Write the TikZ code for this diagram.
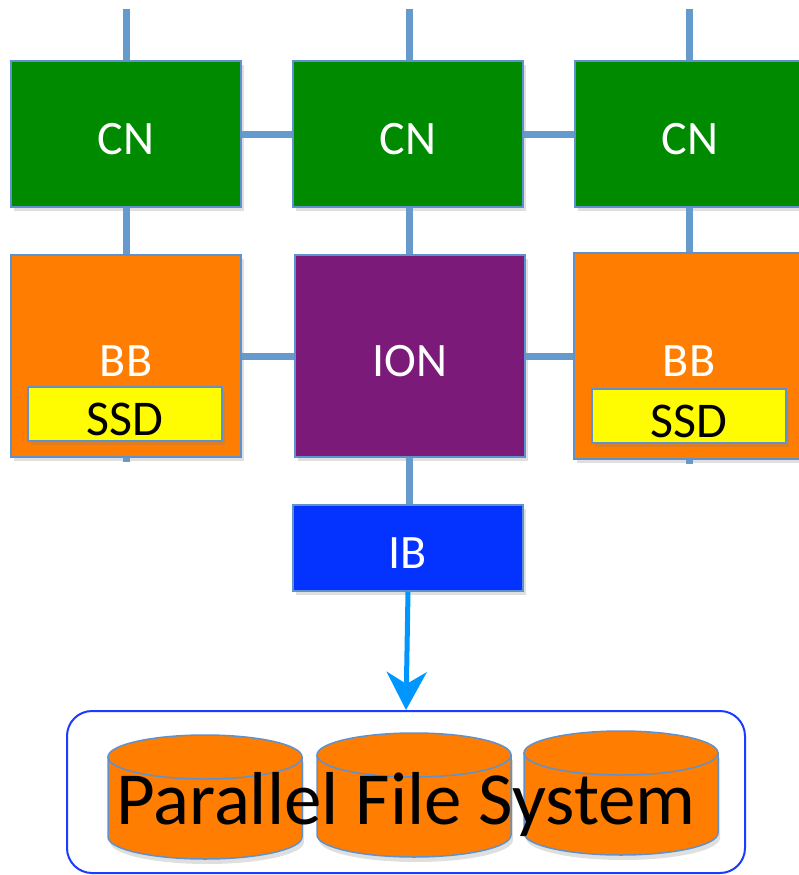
\documentclass[tikz,border=0pt]{standalone}
\usepackage{fontspec}
\setmainfont{Carlito}
\usetikzlibrary{arrows.meta,shadows}
\definecolor{cngreen}{RGB}{0,138,0}
\definecolor{bborange}{RGB}{255,125,0}
\definecolor{ionpurple}{RGB}{123,26,120}
\definecolor{ibblue}{RGB}{4,51,255}
\definecolor{ssdyellow}{RGB}{255,251,0}
\definecolor{linkblue}{RGB}{102,153,204}
\definecolor{boxline}{RGB}{95,145,205}
\definecolor{arrowblue}{RGB}{0,150,255}
\definecolor{pfsblue}{RGB}{25,60,255}
\begin{document}
\begin{tikzpicture}[x=1pt,y=-1pt,
  box/.style={draw=boxline,line width=1.5pt,minimum width=230pt,text=white,
    font=\fontsize{48}{52}\selectfont,text height=40pt,text depth=0pt,
    drop shadow={shadow xshift=3pt,shadow yshift=-4pt,opacity=.25}},
  ssd/.style={box,fill=ssdyellow,minimum width=194pt,minimum height=54pt,text=black,
    font=\fontsize{50}{54}\selectfont,text height=42pt,inner sep=2pt},
  link/.style={draw=linkblue,line width=7pt}]
\useasboundingbox (0,0) rectangle (798,875);
% compute nodes
\node[box,fill=cngreen,minimum height=146pt] (cnA) at (126,134) {CN};
\node[box,fill=cngreen,minimum height=146pt] (cnB) at (408,134) {CN};
\node[box,fill=cngreen,minimum height=146pt] (cnC) at (690,134) {CN};
% burst buffers and io node
\node[box,fill=bborange,minimum height=202pt] (bbA) at (126,356) {BB};
\node[box,fill=ionpurple,minimum height=202pt] (ion) at (410,356) {ION};
\node[box,fill=bborange,minimum height=206pt] (bbB) at (689,356) {BB};
\node[ssd] (ssdA) at (125,414) {SSD};
\node[ssd] (ssdB) at (689,416) {SSD};
\node[box,fill=ibblue,minimum height=86pt] (ib) at (408,548) {IB};
% links
\coordinate (topA) at (126,9);
\coordinate (topB) at (409,9);
\coordinate (topC) at (689,9);
\coordinate (stubA) at (126,462);
\coordinate (stubB) at (689,464);
\draw[link] (topA)--(cnA.north);
\draw[link] (topB)--(cnB.north -| topB);
\draw[link] (topC)--(cnC.north -| topC);
\draw[link] (cnA.east)--(cnB.west);
\draw[link] (cnB.east)--(cnC.west);
\draw[link] (cnA.south)--(bbA.north);
\draw[link] (cnB.south -| topB)--(ion.north -| topB);
\draw[link] (cnC.south -| topC)--(bbB.north -| topC);
\draw[link] (bbA.east)--(ion.west);
\draw[link] (ion.east)--(bbB.west);
\draw[link] (bbA.south)--(stubA);
\draw[link] (bbB.south -| stubB)--(stubB);
\draw[link] (ion.south -| topB)--(ib.north -| topB);
% parallel file system
\node[draw=pfsblue,line width=2pt,rounded corners=25pt,minimum width=678pt,minimum height=162pt] (pfs) at (406,792) {};
\foreach \cx/\yt in {205/757,414/755,621/753}{
  \filldraw[fill=bborange,draw=boxline,line width=1.5pt,drop shadow={shadow xshift=2pt,shadow yshift=-5pt,opacity=.25}]
    (\cx-97,\yt)--(\cx-97,\yt+80) arc[start angle=180,end angle=0,x radius=97,y radius=22]--(\cx+97,\yt)--cycle;
  \filldraw[fill=bborange,draw=boxline,line width=1.5pt] (\cx,\yt) ellipse[x radius=97,y radius=22];
}
\node[anchor=base,font=\fontsize{75}{80}\selectfont] (pfslabel) at (406,824) {Parallel File System};
\draw[arrowblue,line width=5pt,-{Stealth[length=38pt,width=40pt,inset=12pt]}] (ib.south)--(pfs.north);
\end{tikzpicture}
\end{document}
